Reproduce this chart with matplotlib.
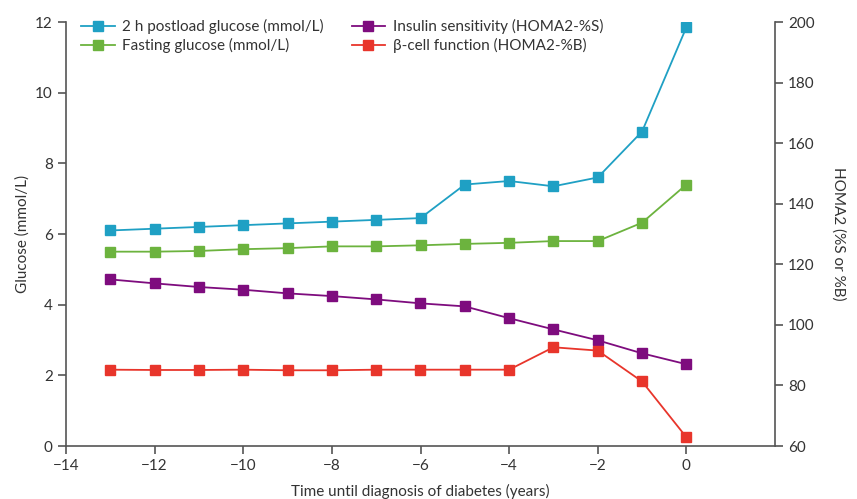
import matplotlib
matplotlib.use("Agg")
import matplotlib.pyplot as plt

plt.rcParams['font.family'] = ['Lato', 'DejaVu Sans']

years = [-13, -12, -11, -10, -9, -8, -7, -6, -5, -4, -3, -2, -1, 0]
postload = [6.1, 6.15, 6.2, 6.25, 6.3, 6.35, 6.4, 6.45, 7.4, 7.5, 7.35, 7.6, 8.9, 11.85]
fasting = [5.5, 5.5, 5.52, 5.57, 5.6, 5.65, 5.65, 5.68, 5.72, 5.75, 5.8, 5.8, 6.32, 7.4]
insulin_s = [115.0, 113.7, 112.5, 111.6, 110.4, 109.5, 108.4, 107.1, 106.1, 102.2, 98.5, 94.9, 90.6, 87.0]
beta_b = [85.2, 85.1, 85.1, 85.2, 85.0, 85.0, 85.2, 85.2, 85.2, 85.2, 92.6, 91.5, 81.3, 62.9]

c_post = '#1fa0c4'
c_fast = '#6cb33e'
c_ins = '#7e0c7e'
c_beta = '#e8352b'
spine_c = '#555555'
txt_c = '#333333'

fig = plt.figure(figsize=(8.57, 4.99), dpi=100)
ax = fig.add_axes([66/857, 1-446/499, (775-66)/857, (446-22)/499])
ax2 = ax.twinx()

lw = 1.3
ms = 7.5
h1, = ax.plot(years, postload, color=c_post, lw=lw, marker='s', ms=ms, label='2 h postload glucose (mmol/L)')
h2, = ax.plot(years, fasting, color=c_fast, lw=lw, marker='s', ms=ms, label='Fasting glucose (mmol/L)')
h3, = ax2.plot(years, insulin_s, color=c_ins, lw=lw, marker='s', ms=ms, label='Insulin sensitivity (HOMA2-%S)')
h4, = ax2.plot(years, beta_b, color=c_beta, lw=lw, marker='s', ms=ms, label='\u03b2-cell function (HOMA2-%B)')

ax.set_xlim(-14, 2)
ax.set_ylim(0, 12)
ax2.set_ylim(60, 200)
ax.set_xticks([-14, -12, -10, -8, -6, -4, -2, 0])
ax.set_xticklabels(['\u221214', '\u221212', '\u221210', '\u22128', '\u22126', '\u22124', '\u22122', '0'])
ax.set_yticks([0, 2, 4, 6, 8, 10, 12])
ax2.set_yticks([60, 80, 100, 120, 140, 160, 180, 200])

for a in (ax, ax2):
    a.spines['top'].set_visible(False)
    for s in a.spines.values():
        s.set_color(spine_c)
        s.set_linewidth(1.2)
    a.tick_params(colors=spine_c, labelcolor=txt_c, labelsize=11, width=1.2, length=6, direction='out')
ax2.spines['left'].set_visible(False)
ax2.spines['bottom'].set_visible(False)
ax.spines['right'].set_visible(False)

ax.set_xlabel('Time until diagnosis of diabetes (years)', fontsize=11, color=txt_c, labelpad=4)
ax.xaxis.set_label_coords(0.5, -0.09)
ax.set_ylabel('Glucose (mmol/L)', fontsize=11, color=txt_c)
ax2.set_ylabel('HOMA2 (%S or %B)', fontsize=11, color=txt_c, rotation=270, labelpad=22)

leg = ax.legend(handles=[h1, h2, h3, h4], loc='upper left', ncol=2, frameon=False,
                fontsize=11, bbox_to_anchor=(0.002, 1.04), handlelength=2.2,
                columnspacing=1.8, labelspacing=0.3, handletextpad=0.5)
for t in leg.get_texts():
    t.set_color(txt_c)

fig.savefig('out.png', dpi=100)
